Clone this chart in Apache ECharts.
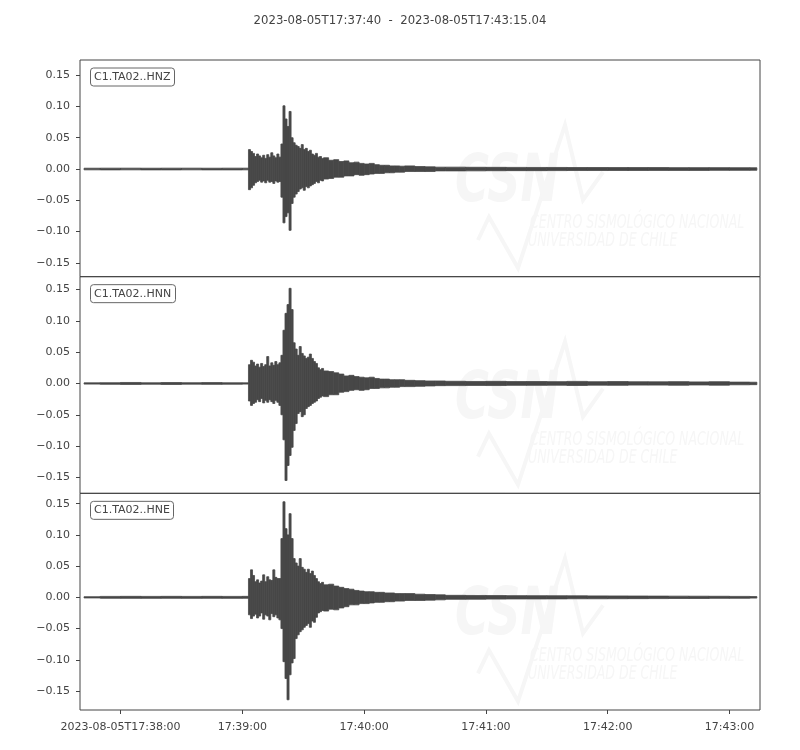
<!DOCTYPE html>
<html>
<head>
<meta charset="utf-8">
<script src="https://cdn.jsdelivr.net/npm/echarts@6.0.0/dist/echarts.min.js"></script>
<style>
  html, body { margin: 0; padding: 0; background: #fff; }
</style>
</head>
<body>
<div id="chart" style="width: 800px; height: 750px"></div>
<script>
// seconds after 2023-08-05T17:37:40, start of each envelope bin
const binTimes = [
  2, 10, 20, 30, 40, 50, 60, 70, 80,
  83, 84, 85, 86, 87, 88, 89, 90, 91, 92, 93, 94, 95, 96, 97, 98, 99, 100,
  101, 102, 103, 104, 105, 106, 107, 108, 109, 110, 111, 112, 113, 114, 115, 116,
  117, 118, 119, 120,
  122.5, 125, 127.5, 130, 132.5, 135, 137.5, 140, 142.5, 145, 147.5, 150, 152.5, 155, 157.5, 160,
  165, 170, 175,
  180, 190, 200, 210, 220, 230, 240, 250, 260, 270, 280, 290, 300, 310, 320, 330
]
const traceEnd = 333.5
const timeMax = 335.04

// per-bin max / min amplitude of each channel
const hnzMax = [
  .0013, .0014, .0014, .0013, .0014, .0014, .0013, .0014, .0014,
  .031, .028, .025, .020, .024, .021, .018, .022, .017, .023, .019, .026, .021, .018, .024, .019, .040, .101,
  .080, .068, .092, .050, .042, .038, .036, .033, .039, .031, .033, .028, .030, .024, .022, .025,
  .019, .020, .017, .018,
  .014, .015, .012, .013, .010, .011, .009, .008, .009, .007, .006, .006, .005, .005, .0045, .005,
  .004, .0035, .003,
  .0030, .0028, .0027, .0026, .0025, .0025, .0024, .0024, .0023, .0023, .0023, .0022, .0022, .0022, .0021, .0020
]
const hnzMin = [
  -.0013, -.0014, -.0013, -.0014, -.0014, -.0013, -.0014, -.0014, -.0013,
  -.033, -.030, -.026, -.022, -.020, -.018, -.021, -.019, -.022, -.018, -.021, -.020, -.023, -.019, -.021, -.020, -.045, -.086,
  -.076, -.070, -.098, -.055, -.045, -.040, -.036, -.032, -.030, -.034, -.028, -.030, -.027, -.025, -.023, -.020,
  -.022, -.018, -.019, -.016,
  -.015, -.013, -.013, -.011, -.011, -.009, -.010, -.009, -.008, -.007, -.007, -.006, -.006, -.005, -.005, -.004,
  -.004, -.004, -.003,
  -.0030, -.0029, -.0027, -.0026, -.0026, -.0025, -.0024, -.0024, -.0023, -.0023, -.0022, -.0022, -.0022, -.0021, -.0021, -.0020
]
const hnnMax = [
  .0010, .0012, .0016, .0011, .0015, .0012, .0014, .0011, .0010,
  .030, .037, .034, .028, .031, .026, .032, .027, .030, .043, .028, .033, .029, .035, .030, .033, .045, .085,
  .112, .126, .152, .118, .065, .055, .045, .059, .048, .044, .040, .042, .047, .040, .035, .032,
  .025, .022, .024, .020,
  .019, .017, .015, .012, .013, .011, .010, .009, .010, .008, .007, .007, .006, .006, .006, .005,
  .0045, .004, .004,
  .0035, .0032, .0034, .0030, .0031, .0029, .0033, .0028, .0030, .0027, .0026, .0029, .0025, .0028, .0022, .0020
]
const hnnMin = [
  -.0010, -.0013, -.0015, -.0012, -.0016, -.0011, -.0014, -.0012, -.0010,
  -.028, -.035, -.032, -.030, -.026, -.029, -.024, -.031, -.027, -.030, -.026, -.029, -.032, -.027, -.030, -.035, -.050, -.090,
  -.155, -.131, -.115, -.102, -.075, -.064, -.048, -.045, -.053, -.050, -.040, -.037, -.035, -.032, -.030, -.028,
  -.024, -.022, -.020, -.021,
  -.018, -.018, -.014, -.013, -.011, -.010, -.011, -.010, -.008, -.008, -.007, -.007, -.006, -.006, -.005, -.005,
  -.0045, -.004, -.0035,
  -.0034, -.0031, -.0033, -.0030, -.0030, -.0028, -.0032, -.0027, -.0029, -.0026, -.0026, -.0028, -.0024, -.0027, -.0021, -.0019
]
const hneMax = [
  .0010, .0015, .0016, .0015, .0016, .0015, .0016, .0015, .0016,
  .030, .044, .035, .025, .028, .023, .026, .036, .025, .033, .028, .027, .044, .032, .030, .030, .094, .153,
  .110, .100, .134, .094, .062, .055, .050, .062, .048, .045, .040, .045, .038, .042, .035, .030,
  .025, .022, .024, .020,
  .021, .018, .016, .014, .013, .011, .010, .009, .009, .008, .008, .007, .007, .006, .006, .006,
  .005, .0045, .004,
  .0032, .0030, .0028, .0027, .0026, .0025, .0024, .0023, .0022, .0021, .0020, .0019, .0018, .0017, .0015, .0012
]
const hneMin = [
  -.0010, -.0015, -.0016, -.0016, -.0015, -.0016, -.0015, -.0016, -.0015,
  -.028, -.034, -.030, -.027, -.033, -.030, -.025, -.035, -.028, -.030, -.036, -.026, -.031, -.028, -.033, -.036, -.050, -.103,
  -.130, -.164, -.124, -.105, -.098, -.066, -.060, -.055, -.052, -.048, -.045, -.042, -.048, -.038, -.040, -.032,
  -.025, -.023, -.021, -.022,
  -.019, -.020, -.017, -.015, -.012, -.012, -.010, -.010, -.009, -.008, -.008, -.007, -.007, -.006, -.006, -.005,
  -.005, -.0045, -.004,
  -.0031, -.0030, -.0028, -.0026, -.0026, -.0025, -.0023, -.0023, -.0022, -.0021, -.0020, -.0018, -.0018, -.0016, -.0015, -.0012
]

const channels = ['C1.TA02..HNZ', 'C1.TA02..HNN', 'C1.TA02..HNE']
const yMin = [-0.172, -0.1755, -0.1804]
const yMax = [0.1742, 0.1706, 0.1665]
const yTicks = [-0.15, -0.1, -0.05, 0, 0.05, 0.1, 0.15]
const xTicks = [20, 80, 140, 200, 260, 320]
const xTickLabels = ['2023-08-05T17:38:00', '17:39:00', '17:40:00', '17:41:00', '17:42:00', '17:43:00']
const titleText = '2023-08-05T17:37:40  -  2023-08-05T17:43:15.04'

const traceColor = '#474747'
const textColor = '#444'
const font = 'DejaVu Sans'
const panelTop = 60
const panelHeight = 216.67

const chart = echarts.init(document.getElementById('chart'))

const buildData = (maxArr, minArr) =>
  binTimes.map((t, i) => [t, maxArr[i], minArr[i], i + 1 < binTimes.length ? binTimes[i + 1] : traceEnd])

const renderBin = (params, api) => {
  const top = api.coord([api.value(0), api.value(1)])
  const bottom = api.coord([api.value(3), api.value(2)])
  return {
    type: 'rect',
    shape: {
      x: top[0],
      y: top[1],
      width: Math.max(bottom[0] - top[0], 0.5),
      height: bottom[1] - top[1]
    },
    style: { fill: traceColor, stroke: traceColor, lineWidth: 0.8 }
  }
}

// faint CSN watermark repeated in each panel
const watermark = (k) => {
  const dy = k * panelHeight
  const c = '#f6f6f6'
  return {
    type: 'group',
    z: 1,
    silent: true,
    children: [
      {
        type: 'polyline',
        shape: { points: [[478, 240 + dy], [489, 217 + dy], [518, 268 + dy], [565, 125 + dy], [583, 200 + dy], [603, 172 + dy]] },
        style: { stroke: c, lineWidth: 4, fill: null }
      },
      {
        type: 'text',
        x: 455, y: 184 + dy,
        scaleX: 0.7,
        style: {
          text: 'CSN', fill: c, fontSize: 66, fontStyle: 'italic', fontWeight: 'bold',
          fontFamily: font, verticalAlign: 'middle'
        }
      },
      {
        type: 'text',
        x: 530, y: 223 + dy,
        scaleX: 0.66,
        style: {
          text: 'CENTRO SISMOLÓGICO NACIONAL', fill: c, fontSize: 19, fontStyle: 'italic',
          fontFamily: font, verticalAlign: 'middle'
        }
      },
      {
        type: 'text',
        x: 528, y: 241 + dy,
        scaleX: 0.66,
        style: {
          text: 'UNIVERSIDAD DE CHILE', fill: c, fontSize: 19, fontStyle: 'italic',
          fontFamily: font, verticalAlign: 'middle'
        }
      }
    ]
  }
}

const series = [
  buildData(hnzMax, hnzMin),
  buildData(hnnMax, hnnMin),
  buildData(hneMax, hneMin)
].map((data, k) => ({
  type: 'custom',
  xAxisIndex: k,
  yAxisIndex: k,
  renderItem: renderBin,
  data: data,
  clip: true,
  z: 3
}))

const option = {
  animation: false,
  title: [
    {
      text: titleText,
      left: 'center',
      top: 15,
      padding: 0,
      textStyle: { fontFamily: font, fontSize: 11.7, fontWeight: 'normal', color: textColor }
    }
  ].concat(channels.map((name, k) => ({
    text: name,
    left: 90,
    top: panelTop + k * panelHeight + 7.5,
    padding: [3, 4],
    borderColor: '#666',
    borderWidth: 1,
    borderRadius: 3,
    backgroundColor: '#fff',
    z: 5,
    textStyle: { fontFamily: font, fontSize: 11, fontWeight: 'normal', color: textColor, lineHeight: 13 }
  }))),
  grid: channels.map((_, k) => ({
    left: 80,
    width: 680,
    top: panelTop + k * panelHeight,
    height: panelHeight,
    show: true,
    borderColor: '#444',
    borderWidth: 1,
    backgroundColor: 'transparent'
  })),
  xAxis: channels.map((_, k) => ({
    type: 'value',
    gridIndex: k,
    min: 0,
    max: timeMax,
    axisLine: { show: false, onZero: false },
    splitLine: { show: false },
    axisTick: {
      show: k === 2,
      length: 4,
      customValues: xTicks,
      lineStyle: { color: '#444' }
    },
    axisLabel: {
      show: k === 2,
      customValues: xTicks,
      margin: 12,
      fontFamily: font,
      fontSize: 11,
      color: textColor,
      formatter: (v) => xTickLabels[xTicks.indexOf(v)] || ''
    }
  })),
  yAxis: channels.map((_, k) => ({
    type: 'value',
    gridIndex: k,
    min: yMin[k],
    max: yMax[k],
    axisLine: { show: false, onZero: false },
    splitLine: { show: false },
    axisTick: {
      show: true,
      length: 4,
      customValues: yTicks,
      lineStyle: { color: '#444' }
    },
    axisLabel: {
      customValues: yTicks,
      margin: 10,
      fontFamily: font,
      fontSize: 11,
      color: textColor,
      formatter: (v) => (v < 0 ? '\u2212' : '') + Math.abs(v).toFixed(2)
    }
  })),
  graphic: [watermark(0), watermark(1), watermark(2)],
  series: series
}

chart.setOption(option)

window.addEventListener('resize', () => {
  chart.resize()
})
</script>
</body>
</html>
